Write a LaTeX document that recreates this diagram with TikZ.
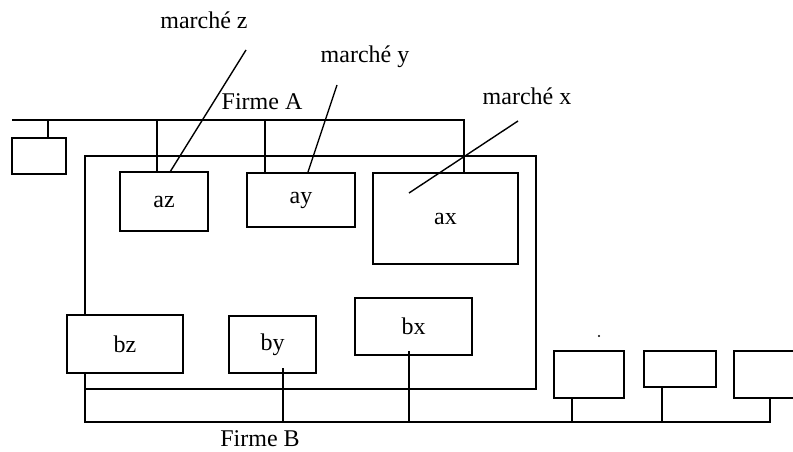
\documentclass[tikz,border=0pt]{standalone}
\usepackage{fontspec}
\setmainfont{Liberation Serif}
\begin{document}
\begin{tikzpicture}[x=1pt,y=-1pt,
  line width=1.4pt,
  box/.style={draw, line width=1.4pt, inner sep=0pt, font=\fontsize{24}{28}\selectfont},
  lbl/.style={inner sep=0pt, font=\fontsize{24}{28}\selectfont},
  link/.style={line width=1.4pt}]
\useasboundingbox (0,0) rectangle (793,452);
\clip (0,0) rectangle (793,452);
% boxes of firm A
\node[box, minimum width=54, minimum height=36] (sA) at (39,156) {};
\node[box, minimum width=88, minimum height=59] (az) at (164,201.5) {az};
\node[box, minimum width=108, minimum height=54] (ay) at (301,200) {ay};
\node[box, minimum width=145, minimum height=91] (ax) at (445.5,218.5) {ax};
% boxes of firm B
\node[box, minimum width=116, minimum height=58] (bz) at (125,344) {bz};
\node[box, minimum width=87, minimum height=57] (by) at (272.5,344.5) {by};
\node[box, minimum width=117, minimum height=57] (bx) at (413.5,326.5) {bx};
\node[box, minimum width=70, minimum height=47] (r1) at (589,374.5) {};
\node[box, minimum width=72, minimum height=36] (r2) at (680,369) {};
\node[box, minimum width=80, minimum height=47] (r3) at (774,374.5) {};
% labels
\node[lbl] (mz) at (204,20) {marché z};
\node[lbl] (my) at (365,57) {marché y};
\node[lbl] (mx) at (527,96) {marché x};
\node[lbl] (fa) at (262,102) {Firme A};
\node[lbl] (fb) at (260,439) {Firme B};
% top bus (firm A)
\coordinate (tl) at (12,120);
\coordinate (tr) at (464,120);
\coordinate (t1) at (48,120);
\coordinate (t2) at (157,120);
\coordinate (t3) at (265,120);
\draw[link] (tl) -- (tr) -- (tr |- ax.north);
\draw[link] (t1) -- (t1 |- sA.north);
\draw[link] (t2) -- (t2 |- az.north);
\draw[link] (t3) -- (t3 |- ay.north);
% big rectangle
\coordinate (gl) at (85,156);
\coordinate (gr) at (536,389);
\draw[link] (gl |- bz.north) -- (gl) -- (gr |- gl) -- (gr) -- (gl |- gr);
% bottom bus (firm B)
\coordinate (bl) at (85,422);
\coordinate (br) at (770,422);
\draw[link] (gl |- bz.south) -- (bl) -- (br) -- (br |- r3.south);
\coordinate (b1) at (283,368);
\coordinate (b2) at (409,351);
\draw[link] (b1) -- (b1 |- bl);
\draw[link] (b2) -- (b2 |- bl);
\coordinate (c1) at (572,422);
\coordinate (c2) at (662,422);
\draw[link] (c1) -- (c1 |- r1.south);
\draw[link] (c2) -- (c2 |- r2.south);
% market lines
\coordinate (lz) at (246,50);
\coordinate (ly) at (337,85);
\coordinate (lx) at (518,121);
\coordinate (ex) at (409,193);
\draw[link] (lz) -- (170,172);
\draw[link] (ly) -- (308,172);
\draw[link] (lx) -- (ex);
% small dot
\fill (599,336) circle (1.2);
\end{tikzpicture}
\end{document}
